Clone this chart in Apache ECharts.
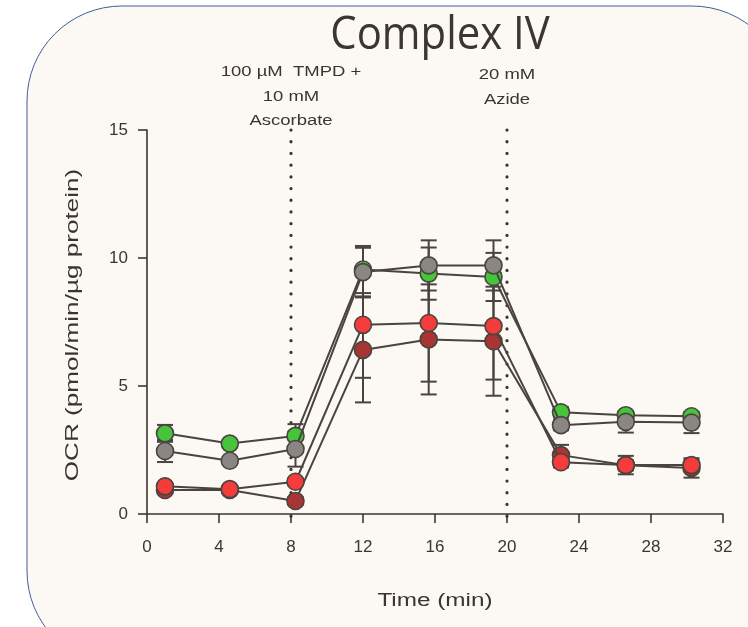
<!DOCTYPE html>
<html>
<head>
<meta charset="utf-8">
<script src="https://cdn.jsdelivr.net/npm/echarts@6/dist/echarts.min.js"></script>
<style>
html,body{margin:0;padding:0;background:#ffffff;}
#chart{width:748px;height:627px;}
</style>
</head>
<body>
<div id="chart"></div>
<script>
// ---- data ----
const times = [1.0, 4.6, 8.25, 12.0, 15.65, 19.25, 23.0, 26.6, 30.25];
const greenMean = [3.15, 2.75, 3.05, 9.55, 9.39, 9.26, 3.97, 3.86, 3.82];
const greenSD   = [0.33, 0.15, 0.46, 0.92, 1.02, 0.94, 0.20, 0.15, 0.15];
const grayMean  = [2.46, 2.08, 2.54, 9.45, 9.71, 9.71, 3.47, 3.60, 3.57];
const graySD    = [0.43, 0.15, 0.69, 0.95, 0.98, 0.98, 0.20, 0.42, 0.41];
const redMean   = [1.08, 0.97, 1.26, 7.39, 7.46, 7.34, 2.02, 1.91, 1.91];
const redSD     = [0.10, 0.10, 0.15, 2.07, 2.29, 2.09, 0.20, 0.36, 0.20];
const darkMean  = [0.94, 0.94, 0.51, 6.41, 6.82, 6.75, 2.30, 1.90, 1.80];
const darkSD    = [0.10, 0.10, 0.15, 2.05, 2.15, 2.13, 0.40, 0.20, 0.38];
const injections = [8, 20];
const xTicks = [0, 32, 4];
const yTicks = [0, 15, 5];
const titleText = 'Complex IV';
const xName = 'Time (min)';
const yName = 'OCR (pmol/min/µg protein)';
const injLabel1 = ['100 µM  TMPD +', '10 mM', 'Ascorbate'];
const injLabel2 = ['20 mM', 'Azide'];

const ink = '#4a4440';
const txt = '#3a3532';
const groups = [
  {name: 'Dark red', mean: darkMean, sd: darkSD, color: '#a83434'},
  {name: 'Red', mean: redMean, sd: redSD, color: '#f43c3a'},
  {name: 'Green', mean: greenMean, sd: greenSD, color: '#46c43a'},
  {name: 'Gray', mean: grayMean, sd: graySD, color: '#8a8683'}
];

const chart = echarts.init(document.getElementById('chart'));
const series = [];
// injection dotted lines
series.push({
  type: 'custom',
  name: 'injections',
  z: 1,
  silent: true,
  data: injections.map(function (x) { return [x, -0.25, 15]; }),
  renderItem: function (params, api) {
    const a = api.coord([api.value(0), api.value(1)]);
    const b = api.coord([api.value(0), api.value(2)]);
    return {type: 'line', shape: {x1: a[0], y1: b[1], x2: a[0], y2: a[1]},
      style: {stroke: '#3a3532', lineWidth: 3.2, lineDash: [0.1, 11.6], lineCap: 'round', fill: null}};
  },
  encode: {x: 0, y: [1, 2]}
});
groups.forEach(function (g) {
  series.push({
    type: 'custom',
    name: g.name + ' SD',
    z: 2,
    silent: true,
    data: times.map(function (t, i) { return [t, g.mean[i] - g.sd[i], g.mean[i] + g.sd[i]]; }),
    renderItem: function (params, api) {
      const lo = api.coord([api.value(0), api.value(1)]);
      const hi = api.coord([api.value(0), api.value(2)]);
      const hw = 8;
      const st = {stroke: ink, lineWidth: 2, fill: null};
      return {type: 'group', children: [
        {type: 'line', shape: {x1: lo[0], y1: lo[1], x2: hi[0], y2: hi[1]}, style: st},
        {type: 'line', shape: {x1: lo[0] - hw, y1: lo[1], x2: lo[0] + hw, y2: lo[1]}, style: st},
        {type: 'line', shape: {x1: hi[0] - hw, y1: hi[1], x2: hi[0] + hw, y2: hi[1]}, style: st}
      ]};
    },
    encode: {x: 0, y: [1, 2]}
  });
});
groups.forEach(function (g, gi) {
  series.push({
    type: 'line',
    name: g.name,
    z: 3 + gi,
    data: times.map(function (t, i) { return [t, g.mean[i]]; }),
    symbol: 'circle',
    symbolSize: 17,
    showAllSymbol: true,
    lineStyle: {color: ink, width: 2},
    itemStyle: {color: g.color, borderColor: ink, borderWidth: 1.6},
    emphasis: {disabled: true}
  });
});

const axisTxt = {color: txt, fontFamily: 'Liberation Sans', fontSize: 17};
chart.setOption({
  animation: false,
  backgroundColor: '#ffffff',
  graphic: [
    {type: 'rect', z: -10, shape: {x: 27, y: 6, width: 760, height: 660, r: 95},
     style: {fill: '#fcf8f4', stroke: '#3f5f92', lineWidth: 1}},
    {type: 'text', z: 10, x: 440, y: 36, scaleX: 0.93,
     style: {text: titleText, x: 0, y: 0, align: 'center', verticalAlign: 'middle',
      font: '45px "Open Sans"', fill: '#3b3633'}},
    {type: 'text', z: 10, x: 291, y: 60, scaleX: 1.32,
     style: {text: injLabel1.join('\n'), x: 0, y: 0, align: 'center', verticalAlign: 'top',
      fontFamily: 'Liberation Sans', fontSize: 14, lineHeight: 24.5, fill: txt}},
    {type: 'text', z: 10, x: 507, y: 63, scaleX: 1.32,
     style: {text: injLabel2.join('\n'), x: 0, y: 0, align: 'center', verticalAlign: 'top',
      fontFamily: 'Liberation Sans', fontSize: 14, lineHeight: 25, fill: txt}},
    {type: 'text', z: 10, x: 435, y: 601, scaleX: 1.35,
     style: {text: xName, x: 0, y: 0, align: 'center', verticalAlign: 'middle',
      fontFamily: 'Liberation Sans', fontSize: 18, fill: txt}},
    {type: 'text', z: 10, x: 73, y: 325, rotation: Math.PI / 2, scaleX: 1.45,
     style: {text: yName, x: 0, y: 0, align: 'center', verticalAlign: 'middle',
      fontFamily: 'Liberation Sans', fontSize: 18, fill: txt}}
  ],
  grid: {left: 147, top: 130, right: 25, bottom: 113},
  xAxis: {
    type: 'value', min: xTicks[0], max: xTicks[1], interval: xTicks[2],
    axisLine: {lineStyle: {color: txt, width: 1.6}},
    axisTick: {length: 9, lineStyle: {color: txt, width: 1.6}},
    axisLabel: Object.assign({margin: 25}, axisTxt),
    splitLine: {show: false}
  },
  yAxis: {
    type: 'value', min: yTicks[0], max: yTicks[1], interval: yTicks[2],
    axisLine: {show: true, lineStyle: {color: txt, width: 1.6}},
    axisTick: {show: true, length: 9, lineStyle: {color: txt, width: 1.6}},
    axisLabel: Object.assign({margin: 19}, axisTxt),
    splitLine: {show: false}
  },
  series: series
});
</script>
</body>
</html>
